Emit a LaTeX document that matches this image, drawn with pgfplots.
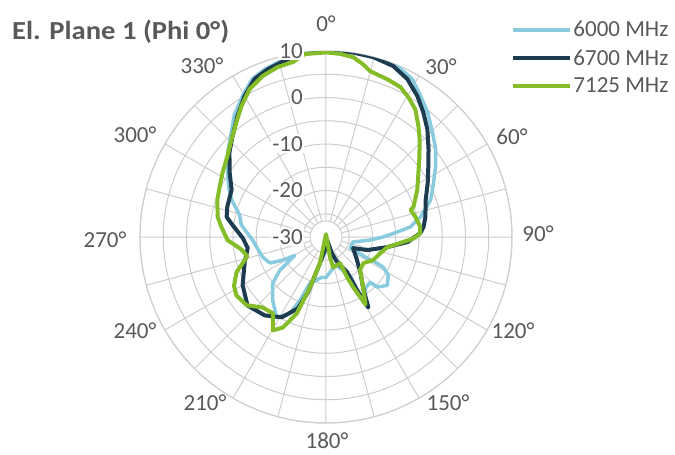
\documentclass[border=0pt]{standalone}
\usepackage{pgfplots}
\usepackage{pgfplotstable}
\pgfplotsset{compat=1.18}
\usepgfplotslibrary{polar}
\usepackage{fontspec}
\setmainfont{Carlito}
\definecolor{txt}{RGB}{89,89,89}
\definecolor{gridc}{RGB}{205,205,205}
\definecolor{c1}{RGB}{137,203,222}
\definecolor{c2}{RGB}{30,60,80}
\definecolor{c3}{RGB}{132,189,40}

\pgfplotstableread{
a d
0 10.1
8.3 10.3
15.9 10.2
22.7 9.8
28.7 8.7
33.9 6.5
39.2 4.6
45.5 2.1
51.4 0.2
57.3 -2
63.2 -4.1
70.4 -6.1
78 -9.2
83.2 -11.7
86 -14.6
90 -17.7
93.9 -20.5
100.5 -24.1
114.6 -24.3
115.8 -22.6
117.1 -20
117 -18.1
117.8 -16.1
121.5 -14.3
128.2 -13.2
134.4 -14.6
135.6 -16.4
142.6 -16.1
150.3 -13.8
148 -20
160 -23.5
167.3 -23.1
180 -21.3
185.7 -21.3
199.2 -19.5
202.4 -15.3
205.3 -11.8
211.5 -9.7
220.1 -12.2
229 -14.8
234.3 -17.8
239.5 -22.2
241.9 -19.4
245.1 -16.7
252.4 -15.7
267.6 -14.2
278.1 -11.6
284.3 -10.8
291.5 -8.2
297 -6.5
304 -4.5
311 -2
317 0
323 2.8
330 5.5
335 7.5
340 8.4
345 9
352 9.9
360 10.1
}\tabA

\pgfplotstableread{
a d
0 10
8.3 10.1
14.7 10
21.5 9.5
27.3 8.2
33 6.1
38 4.0
43.3 1.8
49.5 -1
55.5 -3.3
61.9 -5.2
69.5 -7.1
78.6 -8.2
84.1 -8.9
87.6 -9.7
93.5 -12.4
99.3 -16.6
107.6 -20.7
112.2 -23.7
126.6 -21.7
135.8 -19.4
144 -16.4
149 -12.3
149.7 -16.7
149 -21.2
156 -24.1
160 -26.2
178 -30
185 -27
194.5 -23.1
198.1 -17.5
201.5 -13.5
208.8 -10.3
218 -8.6
228.9 -7.6
240 -9.3
252.8 -11.7
262 -13
269.3 -12.1
277.4 -9.7
281.4 -8.2
287 -7.8
296.6 -7.3
303.7 -5.1
311.2 -2.4
317 -0.5
323.7 2.2
330 5.0
335.7 7.3
340.8 8.2
345.8 8.8
352 9.8
360 10
}\tabB

\pgfplotstableread{
a d
0 9.7
4.4 9.5
8.6 9.1
12.1 8.0
14.9 6.9
21.2 6.4
26.4 6.0
30.5 4.9
35 3.5
39.9 1.0
43.8 -0.9
49.3 -3.5
55.2 -5.8
62.7 -7.9
71 -10.1
72.2 -10.9
77.3 -10.3
83.9 -9.6
88 -9.8
91 -11.2
94.6 -14
99.3 -16.6
106.5 -17.8
116 -18.7
125 -20.2
134 -19.8
143.5 -16.6
149.6 -13.2
151.6 -17.7
152.3 -20.2
151.7 -23.6
166.9 -23.3
168.7 -25.6
180 -30.6
193 -24.2
197.7 -18.6
200.9 -12.4
205.5 -8.4
209.7 -6.9
214.9 -10
222 -9.6
229.3 -7.5
236.9 -7.0
242 -7.6
248.5 -9.3
256.3 -12.6
262 -11.5
268.2 -8.8
275.5 -7.4
280.5 -6.3
288.9 -5.3
295.3 -4.7
301.9 -3.8
309.2 -2.6
315.9 -0.8
322 1.3
327.1 3.5
332.7 5.8
338.5 7.2
344.1 8.0
349.3 8.3
353.4 9.6
360 9.7
}\tabC

\begin{document}
\begin{tikzpicture}[x=1pt,y=1pt]
\useasboundingbox (-326,-218) rectangle (349,237);
\begin{polaraxis}[
  at={(0pt,0pt)}, anchor=center,
  scale only axis, width=372pt, height=372pt,
  xmin=90, xmax=450, ymin=0, ymax=40,
  xtick={90,120,...,420},
  xticklabels={},
  minor xtick={105,135,...,435},
  ytick={0,10,20,30,40}, yticklabels={},
  minor ytick={5,15,25,35},
  grid=both,
  major grid style={gridc, line width=1pt},
  minor grid style={gridc, line width=1pt},
  axis line style={gridc, line width=1pt},
  y axis line style={draw=none},
  tick style={draw=none},
  major tick length=0pt, minor tick length=0pt,
  no markers,
  legend style={at={(0.99,1.088)}, anchor=north west, draw=none, fill=none,
    font=\fontsize{23}{27}\selectfont, text=txt, row sep=9pt,
    nodes={inner sep=1pt}},
  legend cell align=left,
  legend image code/.code={\draw[#1] (0pt,0pt) -- (57pt,0pt);},
]
\fill[white, draw=gridc, line width=1pt] (axis cs:0,0) circle[radius=16pt];
\addplot[c1, line width=3.5pt, line join=round] table[x expr={450-\thisrow{a}}, y expr={\thisrow{d}+30}] {\tabA};
\addlegendentry{6000 MHz}
\addplot[c2, line width=4pt, line join=round] table[x expr={450-\thisrow{a}}, y expr={\thisrow{d}+30}] {\tabB};
\addlegendentry{6700 MHz}
\addplot[c3, line width=4pt, line join=round] table[x expr={450-\thisrow{a}}, y expr={\thisrow{d}+30}] {\tabC};
\addlegendentry{7125 MHz}
\end{polaraxis}
\begin{scope}[every node/.style={text=txt, font=\fontsize{23}{27}\selectfont}]
\node[anchor=east, fill=white, inner sep=1pt] at (-22,186) {10};
\node[anchor=east, fill=white, inner sep=1pt] at (-22,139.5) {0};
\node[anchor=east, fill=white, inner sep=1pt] at (-22,93) {-10};
\node[anchor=east, fill=white, inner sep=1pt] at (-22,46.5) {-20};
\node[anchor=east, fill=white, inner sep=1pt] at (-22,0) {-30};
\node at (0,213) {0°};
\node at (115,170) {30°};
\node at (186,100) {60°};
\node at (212,3) {90°};
\node at (187,-94) {120°};
\node at (122,-166) {150°};
\node[inner sep=0pt] at (1,-204) {180°};
\node at (-121,-166) {210°};
\node at (-191,-94) {240°};
\node at (-221,-3) {270°};
\node at (-191,102) {300°};
\node at (-124,171) {330°};
\end{scope}
\node[anchor=base west, font=\fontsize{26}{30}\selectfont\bfseries, text=txt, inner sep=0pt, xscale=1.1] at (-314,197) {El. Plane 1 (Phi 0°)};
\end{tikzpicture}
\end{document}
